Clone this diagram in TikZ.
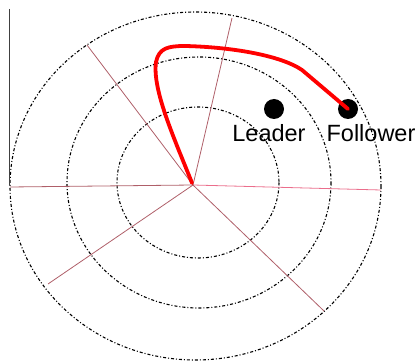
\documentclass[tikz,border=0pt]{standalone}
\usepackage{fontspec}
\setmainfont{Liberation Sans}
\usetikzlibrary{positioning}

\definecolor{spokered}{RGB}{175,95,105}
\definecolor{spokepink}{RGB}{235,110,140}

\begin{document}
\begin{tikzpicture}[x=1pt, y=-1pt,
		ring/.style={black, line width=1.1pt, dash pattern=on 3pt off 2pt on 1pt off 2pt},
		spoke/.style={spokered, line width=0.8pt},
		agent/.style={circle, fill=black, inner sep=0pt, minimum size=20pt},
		agentlabel/.style={font=\fontsize{23.5}{27}\selectfont, inner sep=1pt},
		track/.style={red, line width=3.8pt, line cap=round, line join=round}]
			\useasboundingbox (0,0) rectangle (415,363);
			% rings
			\draw[ring] (198,182.5) ellipse [x radius=81, y radius=75.5];
			\draw[ring] (199,182.5) ellipse [x radius=132, y radius=125.5];
			\draw[ring] (195.5,186) ellipse [x radius=185.5, y radius=174];
			% spokes
			\coordinate (o) at (193,185);
			\coordinate (w) at (10,187);
			\coordinate (e) at (381,190);
			\coordinate (nw) at (87,45);
			\coordinate (n) at (232,18);
			\coordinate (sw) at (48,284);
			\coordinate (se) at (324,311);
			\draw[spoke] (o) -- (w);
			\draw[spoke, spokepink] (o) -- (e);
			\draw[spoke] (o) -- (nw);
			\draw[spoke] (o) -- (n);
			\draw[spoke] (o) -- (sw);
			\draw[spoke] (o) -- (se);
			% axis stub
			\coordinate (axtop) at (9,9);
			\coordinate (axbot) at (9,185);
			\draw[black!75, line width=0.9pt] (axtop) -- (axbot);
			% agents
			\node[agent] (leader) at (274,109) {};
			\node[agent] (follower) at (348,109) {};
			\node[agentlabel, below=4pt of leader, xshift=-5pt] (leadertext) {Leader};
			\node[agentlabel, below=4pt of follower, xshift=23pt] (followertext) {Follower};
			% path of the follower
			\draw[track] (192,183) .. controls (175,140) and (152,90) .. (156,62)
				.. controls (159,48) and (168,46) .. (185,46)
				.. controls (230,47) and (280,55) .. (302,70)
				-- (follower.center);
		\end{tikzpicture}
\end{document}
